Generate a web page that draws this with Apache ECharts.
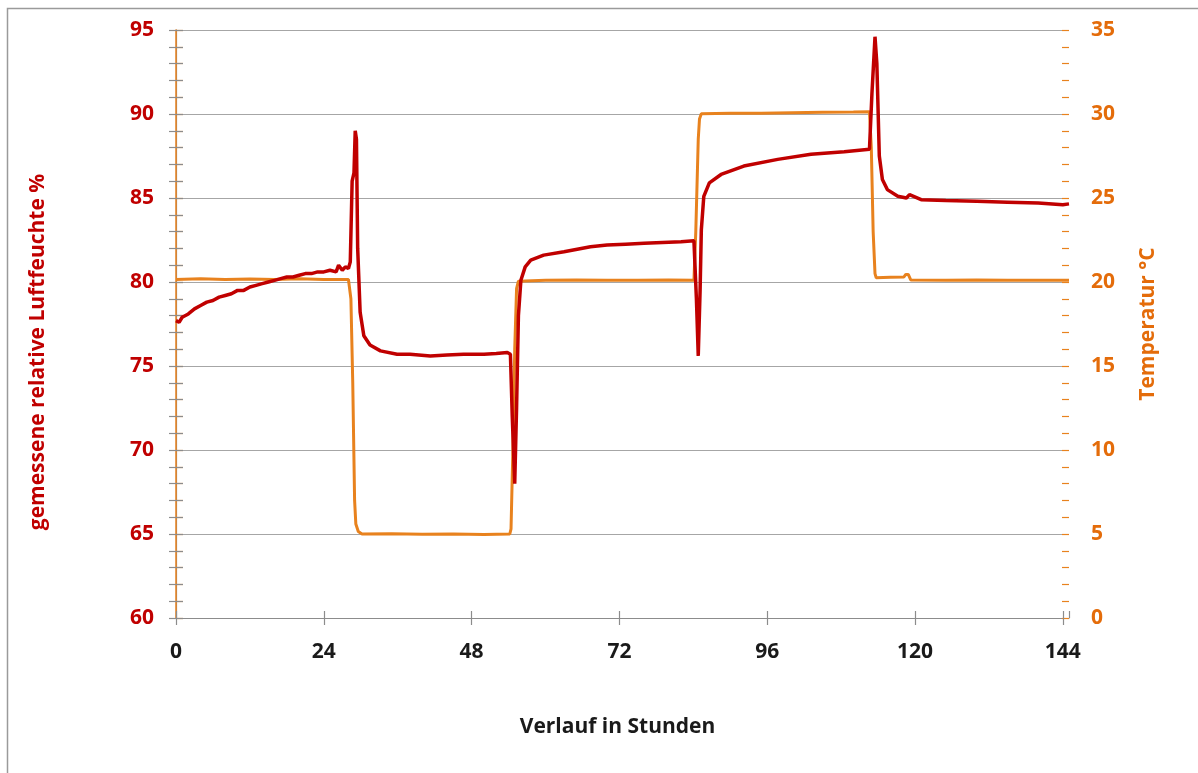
<!DOCTYPE html>
<html>
<head>
<meta charset="utf-8">
<script src="https://cdn.jsdelivr.net/npm/echarts@6/dist/echarts.min.js"></script>
<style>
html,body{margin:0;padding:0;background:#fff;}
#chart{width:1198px;height:773px;}
</style>
</head>
<body>
<div id="chart"></div>
<script>
// ---- data ----
const xTitle = "Verlauf in Stunden";
const leftTitle = "gemessene relative Luftfeuchte %";
const rightTitle = "Temperatur °C";

// relative humidity (%), time in hours
const humTime = [0,0.5,1,2,3,4,5,6,7,8,9,10,11,12,13,14,15,16,17,18,19,20,21,22,23,24,25,26,26.4,27,27.5,28,28.3,28.6,28.9,29.1,29.3,29.5,29.9,30.5,31.5,33.2,35.9,38,41.3,44,46.7,50,52,53.8,54.3,54.6,55.0,55.3,55.6,56.0,56.7,57.6,59.7,63,67.3,70,73,76,79,82,84.1,84.5,84.8,85.1,85.3,85.7,86.6,88.5,92.2,97.7,103.1,108.5,112.6,113.0,113.5,113.8,114.2,114.7,115.5,117.2,118.6,119.1,121,125,130,135,140,144,145];
const humValues = [77.7,77.6,77.9,78.1,78.4,78.6,78.8,78.9,79.1,79.2,79.3,79.5,79.5,79.7,79.8,79.9,80.0,80.1,80.2,80.3,80.3,80.4,80.5,80.5,80.6,80.6,80.7,80.6,81.0,80.7,80.9,80.8,81.2,86.0,86.5,89.0,88.5,82.0,78.2,76.8,76.25,75.9,75.7,75.7,75.6,75.65,75.7,75.7,75.75,75.8,75.7,72.0,68.0,72.5,78.0,80.1,80.9,81.3,81.6,81.8,82.1,82.2,82.25,82.3,82.35,82.4,82.45,79.0,75.6,79.5,83.1,85.1,85.9,86.4,86.9,87.3,87.6,87.75,87.9,91.2,94.6,93.0,87.5,86.1,85.5,85.1,85.0,85.2,84.9,84.85,84.8,84.75,84.7,84.6,84.65];

// temperature (°C), time in hours
const tempTime = [0,4,8,12,16,20,24,28.0,28.4,28.7,29.0,29.2,29.6,30.2,35,40,45,50,54.2,54.4,54.7,55.0,55.3,55.6,60,65,70,75,80,84.1,84.4,84.8,85.0,85.3,90,95,100,105,110,112.6,112.9,113.2,113.5,113.7,116,118.2,118.5,118.9,119.3,125,130,135,140,145];
const tempValues = [20.15,20.2,20.15,20.18,20.15,20.2,20.15,20.15,19.0,14.0,7.0,5.6,5.15,5.0,5.02,4.98,5.0,4.97,5.0,5.3,10.0,16.0,19.6,20.05,20.1,20.12,20.1,20.1,20.12,20.1,23.0,28.5,29.7,30.02,30.05,30.04,30.08,30.1,30.12,30.14,28.0,23.0,20.5,20.25,20.28,20.3,20.45,20.45,20.12,20.1,20.12,20.1,20.1,20.1];

// axis ticks
const humTicks = {min: 60, max: 95, step: 5};
const tempTicks = {min: 0, max: 35, step: 5};
const hourTicks = {min: 0, max: 145, step: 24};

const humData = humTime.map((t, i) => [t, humValues[i]]);
const tempData = tempTime.map((t, i) => [t, tempValues[i]]);

const RED = '#C00000';
const ORANGE = '#E8821E';
const ORANGE_TXT = '#E46C0A';
const GRAY = '#8c8c8c';
const FONT = 'Open Sans';

const chart = echarts.init(document.getElementById('chart'), null, {renderer: 'canvas'});
chart.setOption({
  animation: false,
  backgroundColor: '#fff',
  graphic: [{
    type: 'rect', shape: {x: 7.5, y: 8.5, width: 1400, height: 1000},
    style: {fill: 'none', stroke: '#9a9a9a', lineWidth: 1.5}, silent: true, z: -1
  }, {
    type: 'text', x: 38, y: 352, rotation: Math.PI / 2,
    style: {text: leftTitle, fill: RED, font: 'bold 21px "Open Sans"', textAlign: 'center', textVerticalAlign: 'middle'},
    silent: true
  }],
  grid: {left: 176, right: 129, top: 30, bottom: 155, containLabel: false},
  xAxis: [{
    type: 'value', min: hourTicks.min, max: hourTicks.max, interval: hourTicks.step,
    name: xTitle, nameLocation: 'middle', nameGap: 99,
    nameTextStyle: {fontFamily: FONT, fontWeight: 'bold', fontSize: 21, color: '#1a1a1a', padding: [0, 10, 0, 0]},
    axisLine: {show: true, lineStyle: {color: GRAY, width: 1.2}},
    axisTick: {show: true, length: 7, lineStyle: {color: GRAY, width: 1.2}},
    axisLabel: {fontFamily: FONT, fontWeight: 'bold', fontSize: 21, color: '#1a1a1a', margin: 24, showMaxLabel: false},
    splitLine: {show: false}
  }, {
    type: 'value', min: hourTicks.min, max: hourTicks.max, interval: hourTicks.step, position: 'bottom',
    axisLine: {show: false}, axisTick: {show: true, inside: true, length: 7, lineStyle: {color: GRAY, width: 1.2}},
    axisLabel: {show: false}, splitLine: {show: false}
  }],
  yAxis: [{
    type: 'value', min: humTicks.min, max: humTicks.max, interval: humTicks.step, position: 'left',
    axisLine: {show: true, lineStyle: {color: GRAY, width: 1.2}},
    axisTick: {show: true, length: 7, lineStyle: {color: GRAY, width: 1.2}},
    minorTick: {show: true, splitNumber: 5, length: 7, lineStyle: {color: GRAY, width: 1.2}},
    axisLabel: {fontFamily: FONT, fontWeight: 'bold', fontSize: 21, color: RED, margin: 22},
    splitLine: {show: true, lineStyle: {color: '#a6a6a6', width: 1.2}}
  }, {
    type: 'value', min: tempTicks.min, max: tempTicks.max, interval: tempTicks.step, position: 'right',
    name: rightTitle, nameLocation: 'middle', nameGap: 69, nameRotate: 90,
    nameTextStyle: {fontFamily: FONT, fontWeight: 'bold', fontSize: 21, color: ORANGE_TXT},
    axisLine: {show: true, lineStyle: {color: ORANGE, width: 1.5}},
    axisTick: {show: true, length: 7, lineStyle: {color: ORANGE, width: 1.2}},
    minorTick: {show: true, splitNumber: 5, length: 7, lineStyle: {color: ORANGE, width: 1.2}},
    axisLabel: {fontFamily: FONT, fontWeight: 'bold', fontSize: 21, color: ORANGE_TXT, margin: 22},
    splitLine: {show: false}
  }, {
    type: 'value', min: humTicks.min, max: humTicks.max, interval: humTicks.step, position: 'left',
    axisLine: {show: false},
    axisTick: {show: true, inside: true, length: 7, lineStyle: {color: GRAY, width: 1.2}},
    minorTick: {show: true, splitNumber: 5, length: 7, lineStyle: {color: GRAY, width: 1.2}},
    axisLabel: {show: false}, splitLine: {show: false}
  }, {
    type: 'value', min: tempTicks.min, max: tempTicks.max, interval: tempTicks.step, position: 'right',
    axisLine: {show: false},
    axisTick: {show: true, inside: true, length: 7, lineStyle: {color: ORANGE, width: 1.2}},
    minorTick: {show: true, splitNumber: 5, length: 7, lineStyle: {color: ORANGE, width: 1.2}},
    axisLabel: {show: false}, splitLine: {show: false}
  }],
  series: [{
    name: rightTitle, type: 'line', xAxisIndex: 0, yAxisIndex: 1, data: tempData,
    showSymbol: false, symbol: 'none', lineStyle: {color: ORANGE, width: 3}, z: 2
  }, {
    name: leftTitle, type: 'line', xAxisIndex: 0, yAxisIndex: 0, data: humData,
    showSymbol: false, symbol: 'none', lineStyle: {color: RED, width: 3.5}, z: 3
  }]
});
</script>
</body>
</html>
